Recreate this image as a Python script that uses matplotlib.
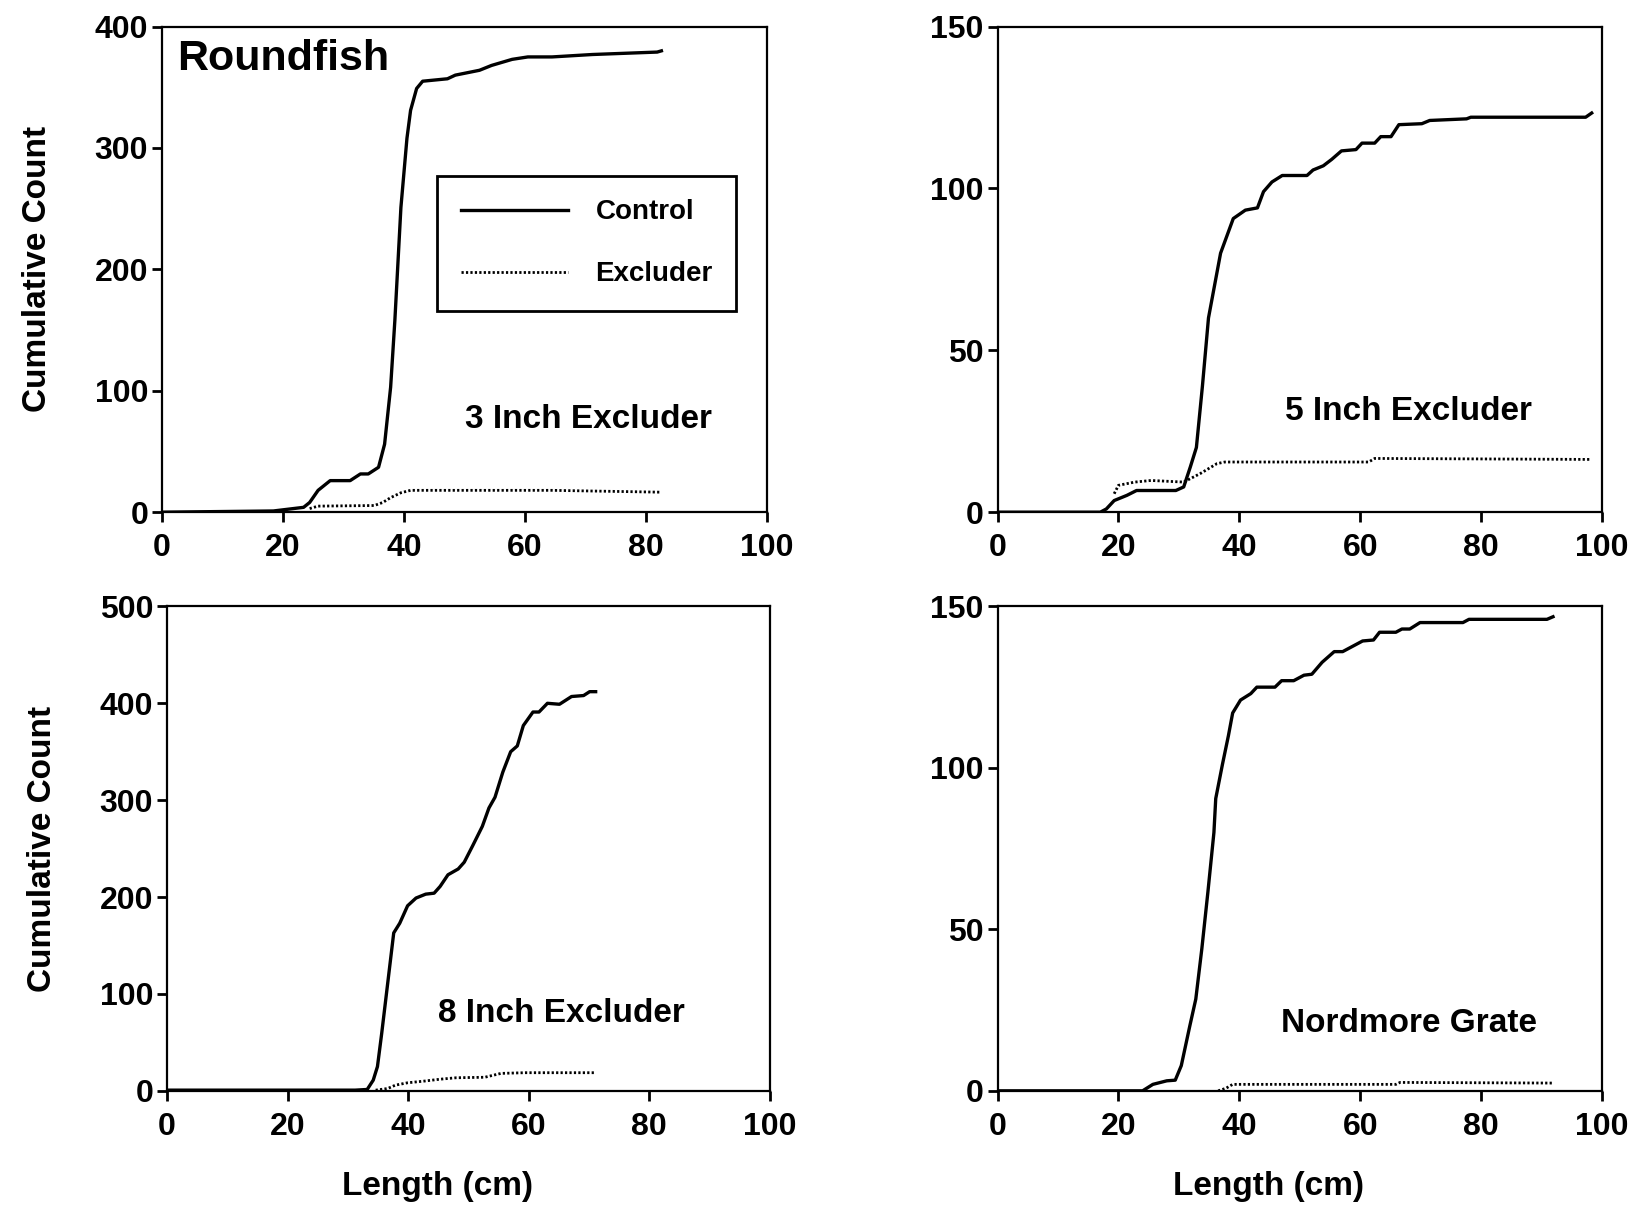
import matplotlib.pyplot as plt

plt.rcParams['font.family'] = ['Liberation Sans', 'DejaVu Sans']
plt.rcParams['font.weight'] = 'bold'

# 3 inch excluder
len_3_ctrl = [0, 18.4, 23.4, 24.4, 25.8, 27.8, 31.1, 32.8, 34.1, 35.8, 36.8, 37.8, 38.5, 39.5,
              40.5, 41.1, 42.1, 43.1, 47.2, 48.5, 52.5, 54.5, 57.9, 60.5, 64.5, 71.2, 81.9, 82.6]
cnt_3_ctrl = [0, 1, 4, 8, 18, 26, 26, 31.5, 31.5, 37, 56, 103, 158, 251,
              308, 331, 349, 355, 357, 360, 364, 368, 373, 375, 375, 377, 379, 380]
len_3_excl = [24.4, 25.8, 35.1, 36.5, 37.8, 39.5, 41.1, 51.2, 64.5, 82.3]
cnt_3_excl = [3, 5, 5.5, 8, 12, 16, 18, 18, 18, 16.5]

# 5 inch excluder
len_5_ctrl = [0, 17, 18, 19.3, 21.4, 23, 29.5, 30.8, 31.9, 32.9, 33.9, 34.9, 35.9, 36.9, 39, 41,
              43, 44, 45.4, 47.1, 51.2, 52.2, 53.9, 55.3, 56.9, 59.3, 60.3, 62.4, 63.4, 65.1,
              66.4, 70.2, 71.5, 77.6, 78.3, 97.3, 98.3]
cnt_5_ctrl = [0, 0, 1, 3.6, 5.2, 6.7, 6.7, 7.8, 14, 20, 39, 60, 70, 80, 90.7, 93.3,
              94, 99, 102, 104, 104, 105.7, 107, 109, 111.6, 112, 114, 114, 116, 116,
              119.7, 120, 121, 121.5, 122, 122, 123.3]
len_5_excl = [19.3, 20, 22.7, 25.4, 30.8, 33.6, 36.3, 37.6, 61.4, 62.4, 98]
cnt_5_excl = [5.7, 8.3, 9.3, 9.8, 9.3, 12, 15, 15.5, 15.5, 16.6, 16.3]

# 8 inch excluder
len_8_ctrl = [0, 31.2, 33.2, 34.2, 34.9, 35.6, 36.6, 37.6, 38.6, 39.9, 41.3, 42.9, 44.3, 45.3,
              46.6, 48.3, 49.3, 50.7, 52.3, 53.4, 54.4, 55.7, 57.0, 58.1, 59.1, 60.7, 61.7,
              63.1, 65.1, 67.1, 69.1, 70.1, 71.1]
cnt_8_ctrl = [0.7, 0.7, 1.4, 11, 25, 59, 111, 163, 173, 191, 199, 203, 204, 211,
              223, 229, 236, 253, 273, 292, 303, 329, 350, 356, 377, 391, 391,
              400, 399, 407, 408, 412, 412]
len_8_excl = [34.6, 36.6, 37.9, 39.9, 42.6, 45.3, 48, 52.7, 55.4, 59.4, 71.1]
cnt_8_excl = [0.7, 2.4, 5.9, 8.3, 10, 12, 13.5, 14, 18, 18.7, 18.7]

# Nordmore grate
len_n_ctrl = [0, 24, 25.7, 28, 29.4, 30.4, 31.8, 32.8, 33.8, 34.8, 35.8, 36.1, 37.2, 38.2, 38.9,
              40.2, 41.9, 42.9, 45.9, 47.0, 49, 50.7, 52, 53.7, 55.7, 57.1, 60.4, 62.2, 63.2,
              65.9, 66.9, 68.2, 69.9, 77, 78, 90.9, 91.9]
cnt_n_ctrl = [0, 0, 2, 3.1, 3.3, 7.8, 20, 28.4, 44, 61.5, 80, 90.5, 101, 110, 117,
              121, 123, 125, 125, 127, 127, 128.7, 129, 132.7, 136, 136, 139.3, 139.6, 142,
              142, 143, 143, 145, 145, 146, 146, 146.8]
len_n_excl = [36.5, 37.8, 38.9, 65.9, 66.6, 91.9]
cnt_n_excl = [0, 0.8, 2, 2, 2.6, 2.4]

panels = [
    ([0.099, 0.576, 0.369, 0.402], len_3_ctrl, cnt_3_ctrl, len_3_excl, cnt_3_excl,
     400, [0, 100, 200, 300, 400], '3 Inch Excluder', (70.6, 76)),
    ([0.609, 0.576, 0.369, 0.402], len_5_ctrl, cnt_5_ctrl, len_5_excl, cnt_5_excl,
     150, [0, 50, 100, 150], '5 Inch Excluder', (68, 31)),
    ([0.102, 0.097, 0.368, 0.401], len_8_ctrl, cnt_8_ctrl, len_8_excl, cnt_8_excl,
     500, [0, 100, 200, 300, 400, 500], '8 Inch Excluder', (65.5, 80)),
    ([0.609, 0.097, 0.369, 0.401], len_n_ctrl, cnt_n_ctrl, len_n_excl, cnt_n_excl,
     150, [0, 50, 100, 150], 'Nordmore Grate', (68, 21)),
]

fig = plt.figure(figsize=(16.38, 12.08), dpi=100)
axes = []
for i, (rect, xc, yc, xe, ye, ymax, yt, name, pos) in enumerate(panels):
    ax = fig.add_axes(rect)
    ax.plot(xc, yc, color='black', lw=2.4, label='Control')
    ax.plot(xe, ye, color='black', lw=2.0, linestyle=(0, (0.8, 0.8)), label='Excluder')
    ax.set_xlim(0, 100)
    ax.set_ylim(0, ymax)
    ax.set_xticks([0, 20, 40, 60, 80, 100])
    ax.set_yticks(yt)
    ax.tick_params(direction='out', length=7, width=2, labelsize=23)
    ax.tick_params(axis='x', pad=8)
    ax.tick_params(axis='y', pad=3)
    for s in ax.spines.values():
        s.set_linewidth(1.6)
    ax.text(pos[0], pos[1], name, fontsize=24, fontweight='bold', ha='center', va='center')
    if i % 2 == 0:
        ax.set_ylabel('Cumulative Count', fontsize=24, fontweight='bold', labelpad=30)
    if i >= 2:
        ax.set_xlabel('Length (cm)', fontsize=24, fontweight='bold', labelpad=20)
        ax.xaxis.set_label_coords(0.448, -0.165)
    axes.append(ax)

axes[0].text(2.5, 373, 'Roundfish', fontsize=31, fontweight='bold', ha='left', va='center')
leg = axes[0].legend(loc='upper right', bbox_to_anchor=(0.95, 0.693), borderaxespad=0,
                     fontsize=20, handlelength=3.85, handletextpad=1.0, labelspacing=1.3,
                     borderpad=0.85, fancybox=False, edgecolor='black', framealpha=1)
leg.get_frame().set_linewidth(2)

fig.savefig('out.png', dpi=100)
